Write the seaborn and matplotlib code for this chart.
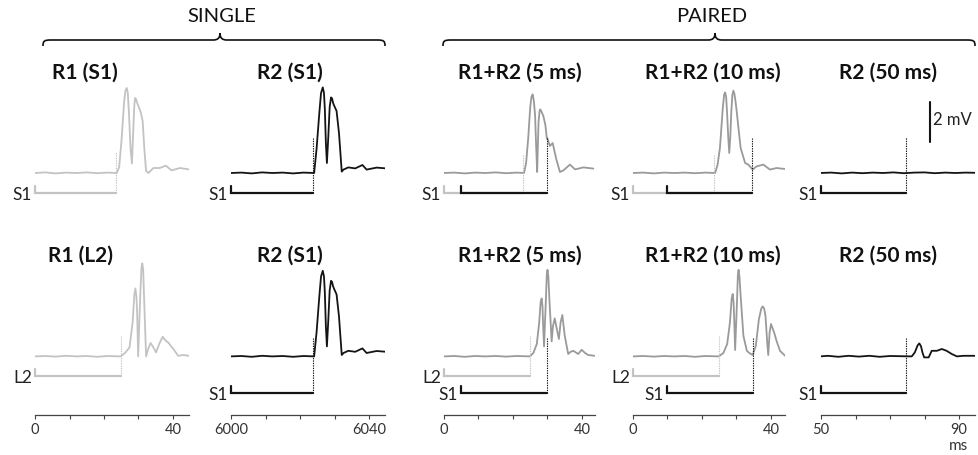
import numpy as np
import matplotlib
matplotlib.use("Agg")
import matplotlib.pyplot as plt
import seaborn as sns
from matplotlib.path import Path
from matplotlib.patches import PathPatch

sns.set_theme(style="white")
plt.rcParams["font.family"] = ["Lato", "DejaVu Sans"]

# ------------------------------------------------------------------ data
group_labels = ["SINGLE", "PAIRED"]
titles_top = ["R1 (S1)", "R2 (S1)", "R1+R2 (5 ms)", "R1+R2 (10 ms)", "R2 (50 ms)"]
titles_bottom = ["R1 (L2)", "R2 (S1)", "R1+R2 (5 ms)", "R1+R2 (10 ms)", "R2 (50 ms)"]

tick_values = [[0, 10, 20, 30, 40], [6000, 6010, 6020, 6030, 6040],
               [0, 10, 20, 30, 40], [0, 10, 20, 30, 40], [50, 60, 70, 80, 90]]
tick_labels = [["0", "", "", "", "40"], ["6000", "", "", "", "6040"],
               ["0", "", "", "", "40"], ["0", "", "", "", "40"], ["50", "", "", "", "90"]]
x_unit = "ms"
scale_mv = 2
scale_label = "2 mV"

# traces: time (ms) and voltage relative to baseline (mV)
r1_s1_t = [0, 3, 6, 9, 12, 15, 18, 21, 23.7, 24.4, 25.1, 25.8, 26.2, 26.6, 26.9, 27.2, 27.7, 28.1,
           28.5, 28.8, 29.0, 29.3, 29.6, 30.2, 30.7, 31.2, 31.7, 32.2, 32.9, 34.3, 36.2, 37.9,
           39.6, 42.0, 45.0]
r1_s1_v = [0, .03, -.02, .02, 0, .03, -.01, .02, 0, .3, 1.67, 3.5, 4.1, 4.25, 4.0, 3.1, 1.2, .47,
           2.2, 3.4, 3.75, 3.7, 3.5, 3.25, 3.0, 2.6, 1.2, .1, 0, .25, .25, .37,
           .13, .25, .17]

r2_s1_t = [6000, 6003, 6006, 6009, 6012, 6015, 6018, 6021, 6024.1, 6024.8, 6025.6, 6026.1,
           6026.6, 6026.95, 6027.2, 6027.5, 6027.8, 6028.2, 6028.6, 6029.0, 6029.3, 6029.6,
           6029.9, 6030.6, 6031.3, 6032.1, 6032.6, 6034.0, 6036.0, 6038.1, 6039.3, 6042.2, 6045.0]
r2_s1_v = [0, .02, -.02, .03, 0, .02, -.02, .02, 0, 1.2, 3.0, 4.0, 4.28, 4.0, 3.2, 1.5, .5,
           1.8, 3.3, 3.78, 3.72, 3.5, 3.37, 3.1, 2.0, .07, .17, .28, .23, .4, .17, .27, .23]

p5_top_t = [0, 3, 6, 9, 12, 15, 18, 21, 23.2, 23.8, 24.4, 25.0, 25.35, 25.7, 26.05, 26.4, 26.7,
            27.0, 27.4, 27.7, 27.9, 28.3, 28.8, 29.4, 29.8, 30.0, 30.7, 31.5, 32.5, 33.6,
            34.6, 36.5, 38.0, 40.4, 43.3]
p5_top_v = [0, .02, -.02, .02, 0, .03, -.01, .02, 0, .5, 1.72, 3.3, 3.8, 3.93, 3.6, 2.88, 1.4,
            .05, 2.55, 3.1, 3.18, 3.05, 2.85, 2.38, 1.72, 1.72, 1.35, 1.5, .72, .05,
            .13, .42, .18, .28, .22]

p10_top_t = [0, 3, 6, 9, 12, 15, 18, 21, 23.8, 24.5, 25.2, 26.0, 26.4, 26.7, 27.0, 27.3, 27.6,
             27.9, 28.2, 28.5, 28.8, 29.1, 29.4, 29.7, 30.0, 30.6, 31.2, 32.5, 33.4, 34.7, 35.8,
             37.8, 39.7, 41.6, 44.1]
p10_top_v = [0, .02, -.02, .02, 0, .02, -.01, .02, 0, .4, 1.25, 3.2, 3.9, 4.03, 3.8, 2.9, 1.8,
             1.0, 1.8, 3.08, 3.9, 4.12, 3.95, 3.6, 3.17, 2.2, 1.25, .5, .42, .17, .33,
             .42, .17, .25, .2]

p50_top_t = [49.7, 53, 56, 59, 62, 65, 68, 71, 74, 77, 80, 83, 86, 89, 92, 94.6]
p50_top_v = [0, .02, -.02, .02, -.01, .02, 0, .03, -.01, .02, .03, -.01, .02, 0, .02, .01]

r1_l2_t = [0, 3, 6, 9, 12, 15, 18, 21, 24.8, 26.1, 27.4, 28.3, 28.8, 29.1, 29.4, 29.6, 29.9,
           30.5, 30.85, 31.1, 31.35, 31.6, 32.2, 32.8, 33.5, 34.3, 35.1,
           36.0, 37.0, 37.9, 38.6, 40.1, 41.5, 43.0, 44.6]
r1_l2_v = [0, .02, -.01, .03, 0, .02, -.02, .02, 0, .17, .45, 1.7, 3.1, 3.4, 3.0, 2.2, 0,
           3.03, 4.4, 4.65, 4.35, 3.03, 0, .37, .67, .45, .2,
           .62, .98, .78, .7, .37, .03, .07, .03]

p5_bot_t = [0, 3, 6, 9, 12, 15, 18, 21, 24.9, 25.9, 26.9, 27.6, 28.0, 28.3, 28.55, 28.7, 29.0,
            29.5, 29.8, 30.0, 30.25, 30.5, 31.2, 31.6, 32.1, 32.7, 33.3,
            33.8, 34.3, 35.0, 36.0, 36.7, 37.5, 38.9, 39.9, 40.9, 41.8, 43.6]
p5_bot_v = [0, .02, -.02, .02, 0, .02, -.01, .02, 0, .17, .62, 1.7, 2.7, 2.9, 2.5, 1.7, .5,
            2.7, 4.1, 4.33, 4.0, 3.03, .75, 1.53, 1.9, 1.37, .87,
            1.7, 2.07, 1.03, .12, .23, .28, .12, .33, .17, .07, .03]

p10_bot_t = [0, 3, 6, 9, 12, 15, 18, 21, 24.9, 26.2, 27.3, 28.1, 28.6, 28.9, 29.15, 29.3, 29.6,
             30.1, 30.4, 30.6, 30.85, 31.2, 32.0, 33.0, 33.7, 34.7,
             35.6, 36.5, 37.2, 37.6, 38.0, 38.4, 38.9, 39.2, 39.6, 40.0, 40.9, 41.6, 42.6, 44.1]
p10_bot_v = [0, .02, -.01, .02, 0, .02, -.02, .02, 0, .17, .62, 1.7, 2.9, 3.12, 2.7, 2.03, .32,
             2.53, 4.1, 4.33, 4.0, 3.03, 1.03, .28, .17, .07,
             .53, 1.87, 2.4, 2.5, 2.4, 2.03, .7, .07, 1.2, 1.62, 1.2, .78, .28, .03]

p50_bot_t = [49.7, 52, 55, 58, 61, 64, 67, 70, 73, 76.3, 77.2, 78.0, 78.5, 79.0, 79.4, 79.9,
             81.2, 82.1, 83.6, 85.0, 86.4, 87.9, 89.4, 91.3, 94.6]
p50_bot_v = [0, .03, -.02, .03, -.01, .03, -.02, .02, .01, 0, .2, .55, .65, .5, .2, -.05,
             -.05, .28, .28, .37, .28, .12, 0, .03, .03]

# stimulus trains: (label, onset, offset, kind)  kind: 'first' (gray) / 'second' (black)
stim_top = [
    [("S1", 0, 23.5, "first")],
    [("S1", 6000, 6023.8, "second")],
    [("S1", 0, 22.9, "first"), ("", 4.9, 30.0, "second")],
    [("S1", 0, 23.5, "first"), ("", 9.9, 34.5, "second")],
    [("S1", 50, 74.6, "second")],
]
stim_bottom = [
    [("L2", 0, 24.8, "first")],
    [("S1", 6000, 6023.9, "second")],
    [("L2", 0, 24.9, "first"), ("S1", 4.9, 30.0, "second")],
    [("L2", 0, 24.9, "first"), ("S1", 9.9, 34.7, "second")],
    [("S1", 50, 74.6, "second")],
]

traces_top = [(r1_s1_t, r1_s1_v, "r1"), (r2_s1_t, r2_s1_v, "r2"), (p5_top_t, p5_top_v, "pair"),
              (p10_top_t, p10_top_v, "pair"), (p50_top_t, p50_top_v, "r2")]
traces_bottom = [(r1_l2_t, r1_l2_v, "r1"), (r2_s1_t, r2_s1_v, "r2"), (p5_bot_t, p5_bot_v, "pair"),
                 (p10_bot_t, p10_bot_v, "pair"), (p50_bot_t, p50_bot_v, "r2")]

# ------------------------------------------------------------------ layout / style
W, H = 979, 456
trace_colors = {"r1": "#c3c3c3", "pair": "#9a9a9a", "r2": "#141414"}
stim_colors = {"first": "#c3c3c3", "second": "#141414"}

col_left_px = [35, 231, 444, 633, 821]
col_xlim = [(0, 44.6), (6000, 6044.6), (0, 43.8), (0, 44.1), (50, 94.6)]
px_per_ms = 3.45
px_per_mv = 20.0
axis_px = 416
top_px = 56

row_base = [12.1, 2.93]          # baseline offsets (mV in axes coords)
row_bar_first = [11.1, 1.965]
row_bar_second = [11.1, 1.1]
row_dot_first = [13.0, 3.97]
row_dot_second = [13.85, 3.83]
tick_h = 0.35

fig = plt.figure(figsize=(W / 100, H / 100), dpi=100)


def P(x, y):
    return (x / W, 1 - y / H)


axes = []
for i in range(5):
    x0, x1 = col_xlim[i]
    wpx = (x1 - x0) * px_per_ms
    ax = fig.add_axes([col_left_px[i] / W, (H - axis_px) / H, wpx / W, (axis_px - top_px) / H])
    ax.set_xlim(x0, x1)
    ax.set_ylim(0, (axis_px - top_px) / px_per_mv)
    ax.patch.set_alpha(0)
    for s in ["top", "right", "left"]:
        ax.spines[s].set_visible(False)
    ax.spines["bottom"].set_color("#444444")
    ax.spines["bottom"].set_linewidth(0.9)
    ax.set_yticks([])
    ax.set_xticks(tick_values[i])
    ax.set_xticklabels(tick_labels[i])
    ax.tick_params(axis="x", bottom=True, direction="out", length=2.8, width=0.8,
                   color="#444444", labelsize=10.5, labelcolor="#333333", pad=2)
    ax.set_xlabel("")
    ax.set_ylabel("")
    axes.append(ax)

for row, (traces, stims) in enumerate([(traces_top, stim_top), (traces_bottom, stim_bottom)]):
    for i, ax in enumerate(axes):
        t, v, kind = traces[i]
        sns.lineplot(x=np.asarray(t, float), y=np.asarray(v, float) + row_base[row], ax=ax,
                     color=trace_colors[kind], linewidth=1.3, sort=False, estimator=None)
        for (lab, on, off, skind) in stims[i]:
            yb = row_bar_first[row] if skind == "first" else row_bar_second[row]
            yd = row_dot_first[row] if skind == "first" else row_dot_second[row]
            if row == 0 and i == 0:
                yd = 13.15
            if row == 0 and i == 4:
                yd = 13.9
            c = stim_colors[skind]
            lw = 1.6
            ax.plot([on, on, off], [yb + tick_h, yb, yb], color=c, lw=lw,
                    solid_joinstyle="miter", clip_on=False)
            ax.plot([off, off], [yb, yd], color=c, lw=0.8, ls=(0, (1.2, 1.0)), clip_on=False)
            if lab:
                ax.text(on - 0.9, yb - 0.05, lab, ha="right", va="center", fontsize=12.5,
                        color="#222222", clip_on=False)

# scale bar
ax5 = axes[4]
ax5.plot([81.6, 81.6], [13.67, 13.67 + scale_mv], color="#141414", lw=1.5, clip_on=False)
ax5.text(82.6, 14.8, scale_label, ha="left", va="center", fontsize=12, color="#222222")

# titles
title_x = [85, 290, 520, 713, 888]
for i in range(5):
    fig.text(*P(title_x[i], 78.5), titles_top[i], ha="center", va="baseline",
             fontsize=15, fontweight="bold", color="#111111")
    fig.text(*P(title_x[i] - 4 if i == 0 else title_x[i], 262), titles_bottom[i], ha="center",
             va="baseline", fontsize=15, fontweight="bold", color="#111111")

fig.text(*P(959, 446), x_unit, ha="center", va="center", fontsize=11, color="#333333")


# braces
def brace(x0, xm, x1, yl=41, ye=47, yt=34):
    verts = [P(x0, ye), P(x0, yl + 1), P(x0 + 1, yl), P(x0 + 8, yl),
             P(xm - 7, yl), P(xm - 2, yl), P(xm, yl - 2), P(xm, yt),
             P(xm, yl - 2), P(xm + 2, yl), P(xm + 7, yl),
             P(x1 - 8, yl), P(x1 - 1, yl), P(x1, yl + 1), P(x1, ye)]
    codes = [Path.MOVETO, Path.CURVE4, Path.CURVE4, Path.CURVE4,
             Path.LINETO, Path.CURVE4, Path.CURVE4, Path.CURVE4,
             Path.CURVE4, Path.CURVE4, Path.CURVE4,
             Path.LINETO, Path.CURVE4, Path.CURVE4, Path.CURVE4]
    fig.add_artist(PathPatch(Path(verts, codes), transform=fig.transFigure, fill=False,
                             lw=1.2, edgecolor="#111111"))


brace(43, 220, 385)
brace(443, 715, 975)
fig.text(*P(222, 17), group_labels[0], ha="center", va="center", fontsize=14.5, color="#111111")
fig.text(*P(712, 17), group_labels[1], ha="center", va="center", fontsize=14.5, color="#111111")

fig.savefig("out.png", dpi=100)
